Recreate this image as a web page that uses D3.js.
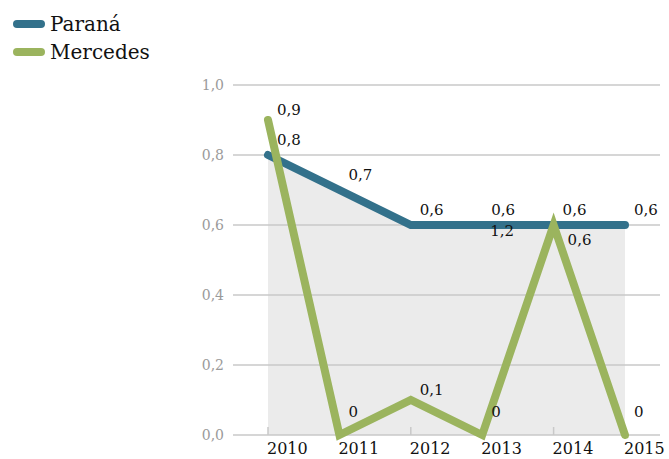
<!DOCTYPE html>
<html>
<head>
<meta charset="utf-8">
<script src="https://cdn.jsdelivr.net/npm/d3@7"></script>
<style>
  body { margin: 0; background: #fff; }
  svg { display: block; }
</style>
</head>
<body>
<div id="chart"></div>
<script>
// chart values
var years = [2010, 2011, 2012, 2013, 2014, 2015];
var parana = [0.8, 0.7, 0.6, 0.6, 0.6, 0.6];
var mercedes = [0.9, 0, 0.1, 0, 0.6, 0];
var yTicks = [0, 0.2, 0.4, 0.6, 0.8, 1.0];
var seriesNames = ["Paraná", "Mercedes"];
// extra label shown in the original at 2013
var extraLabels = [{ year: 2013, value: 0.6, text: "1,2" }];

var W = 669, H = 459;
var colors = { "Paraná": "#33718b", "Mercedes": "#9bb45e" };
var fmt = function (v) { return v === 0 ? "0" : d3.format(".1f")(v).replace(".", ","); };

var svg = d3.select("#chart").append("svg").attr("width", W).attr("height", H);

var x = d3.scalePoint().domain(years).range([268, 625]);
var y = d3.scaleLinear().domain([0, 1]).range([435, 85]);

// grey area under Paraná
svg.append("path")
    .datum(years.map(function (yr, i) { return [yr, parana[i]]; }))
    .attr("fill", "#ebebeb")
    .attr("d", d3.area().x(function (d) { return x(d[0]); }).y0(y(0)).y1(function (d) { return y(d[1]); }));

// gridlines
svg.append("g").selectAll("line").data(yTicks).join("line")
    .attr("x1", 233).attr("x2", 660)
    .attr("y1", function (d) { return y(d); }).attr("y2", function (d) { return y(d); })
    .attr("stroke", "#c9c9c9").attr("stroke-width", 1.5);

// y labels
svg.append("g").selectAll("text").data(yTicks).join("text")
    .attr("x", 224).attr("y", function (d) { return y(d) + 5; })
    .attr("text-anchor", "end")
    .attr("fill", "#9a9a9a")
    .style("font", "14px 'DejaVu Serif'")
    .text(function (d) { return d3.format(".1f")(d).replace(".", ","); });

// x ticks + labels
svg.append("g").selectAll("line").data(years).join("line")
    .attr("x1", function (d) { return x(d); }).attr("x2", function (d) { return x(d); })
    .attr("y1", y(0) - 8).attr("y2", y(0))
    .attr("stroke", "#c9c9c9").attr("stroke-width", 1.5);
svg.append("g").selectAll("text").data(years).join("text")
    .attr("x", function (d) { return x(d) - 1; }).attr("y", 454)
    .attr("fill", "#111")
    .style("font", "16px 'DejaVu Serif'")
    .text(function (d) { return d; });

// lines
var line = d3.line().x(function (d) { return x(d[0]); }).y(function (d) { return y(d[1]); });
[["Paraná", parana], ["Mercedes", mercedes]].forEach(function (s) {
    svg.append("path")
        .datum(years.map(function (yr, i) { return [yr, s[1][i]]; }))
        .attr("fill", "none")
        .attr("stroke", colors[s[0]])
        .attr("stroke-width", 8)
        .attr("stroke-linecap", "round")
        .attr("d", line);
});

// value labels
var labelFont = "15px 'DejaVu Serif'";
function addLabel(yr, v, text, dx, dy) {
    svg.append("text")
        .attr("x", x(yr) + dx).attr("y", y(v) + dy)
        .attr("fill", "#111")
        .style("font", labelFont)
        .text(text);
}
years.forEach(function (yr, i) { addLabel(yr, parana[i], fmt(parana[i]), 9, -10); });
years.forEach(function (yr, i) {
    var clash = mercedes[i] === parana[i];
    addLabel(yr, mercedes[i], fmt(mercedes[i]), clash ? 14 : 9,
        clash ? 20 : (mercedes[i] === 0 ? -18 : -5));
});
extraLabels.forEach(function (l) { addLabel(l.year, l.value, l.text, 8, 11); });

// legend
var legend = svg.append("g").selectAll("g").data(seriesNames).join("g")
    .attr("transform", function (d, i) { return "translate(0," + (24 + i * 28) + ")"; });
legend.append("line")
    .attr("x1", 17).attr("x2", 41)
    .attr("stroke", function (d) { return colors[d]; })
    .attr("stroke-width", 8).attr("stroke-linecap", "round");
legend.append("text")
    .attr("x", 50).attr("y", 7)
    .attr("fill", "#111")
    .style("font", "20px 'DejaVu Serif'")
    .text(function (d) { return d; });
</script>
</body>
</html>
